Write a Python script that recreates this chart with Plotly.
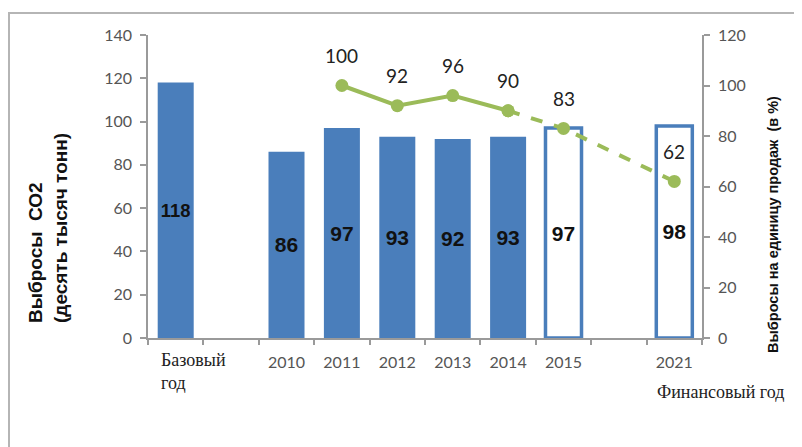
import plotly.graph_objects as go

# ---- data ----
slots = ["Базовый год", "", "2010", "2011", "2012", "2013", "2014", "2015", "", "2021"]
bar_categories = ["Базовый год", "2010", "2011", "2012", "2013", "2014", "2015", "2021"]
bar_values = [118, 86, 97, 93, 92, 93, 97, 98]
bar_outlined = [False, False, False, False, False, False, True, True]
line_solid_cats = ["2011", "2012", "2013", "2014"]
line_solid_vals = [100, 92, 96, 90]
line_dash_cats = ["2014", "2015", "2021"]
line_dash_vals = [90, 83, 62]
year_ticks = ["2010", "2011", "2012", "2013", "2014", "2015", "2021"]

pos = {c: i for i, c in enumerate(slots) if c}

# page has an 8px body margin; work in page coordinates
OFF = 8
W, H = 794, 439
PL, PR, PT, PB = 148, 702, 35, 338      # plot area in page coords
L, T = PL - OFF, PT - OFF
R, B = W - (PR - OFF), H - (PB - OFF)
PW, PH = PR - PL, PB - PT

def px(x):
    return (x - PL) / PW

def py(y):
    return (PB - y) / PH

BLUE = "#4a7ebb"
GREEN = "#9bbb59"

fig = go.Figure()

fig.add_trace(go.Bar(
    x=[pos[c] for c in bar_categories],
    y=bar_values,
    width=0.65,
    marker=dict(
        color=["white" if o else BLUE for o in bar_outlined],
        line=dict(color=BLUE, width=[3.5 if o else 0 for o in bar_outlined]),
    ),
    text=[str(v) for v in bar_values],
    textposition="inside",
    insidetextanchor="middle",
    textangle=0,
    textfont=dict(family="Liberation Sans", size=21, color="#111111", weight="bold"),
    showlegend=False,
))

fig.add_trace(go.Scatter(
    x=[pos[c] for c in line_dash_cats], y=line_dash_vals, yaxis="y2",
    mode="lines+markers",
    line=dict(color=GREEN, width=4, dash="dash"),
    marker=dict(color=GREEN, size=13),
    showlegend=False,
))
fig.add_trace(go.Scatter(
    x=[pos[c] for c in line_solid_cats], y=line_solid_vals, yaxis="y2",
    mode="lines+markers",
    line=dict(color=GREEN, width=4),
    marker=dict(color=GREEN, size=13),
    showlegend=False,
))

annotations = []
for c, v in list(zip(line_solid_cats, line_solid_vals)) + list(zip(line_dash_cats[1:], line_dash_vals[1:])):
    annotations.append(dict(
        x=pos[c], y=v, xref="x", yref="y2", text=str(v), showarrow=False,
        yshift=30, font=dict(family="Lato", size=19, color="#222222"),
    ))

annotations += [
    dict(x=px(159), y=py(371), xref="paper", yref="paper", xanchor="left", yanchor="middle",
         text="Базовый<br>год", align="left", showarrow=False,
         font=dict(family="Liberation Serif", size=18, color="#222222")),
    dict(x=px(786), y=py(392), xref="paper", yref="paper", xanchor="right", yanchor="middle",
         text="Финансовый год", showarrow=False,
         font=dict(family="Liberation Serif", size=18, color="#222222")),
    dict(x=px(48), y=py(228), xref="paper", yref="paper", xanchor="center", yanchor="middle",
         text="Выбросы  СО2<br>(десять тысяч тонн)", textangle=-90, align="left", showarrow=False,
         font=dict(family="Liberation Sans", size=19, color="#111111", weight="bold")),
    dict(x=px(773), y=py(225), xref="paper", yref="paper", xanchor="center", yanchor="middle",
         text="Выбросы на единицу продаж  (в %)", textangle=-90, showarrow=False,
         font=dict(family="Liberation Sans", size=14.5, color="#111111", weight="bold")),
]

shapes = [
    dict(type="line", xref="paper", yref="paper", x0=px(8), x1=px(820), y0=py(13), y1=py(13),
         line=dict(color="#b5b5b5", width=2)),
    dict(type="line", xref="paper", yref="paper", x0=px(9), x1=px(9), y0=py(13), y1=py(470),
         line=dict(color="#b5b5b5", width=2)),
]

axis_font = dict(family="Lato", size=16, color="#555555")

fig.update_layout(
    width=W, height=H,
    margin=dict(l=L, r=R, t=T, b=B),
    paper_bgcolor="white", plot_bgcolor="white",
    bargap=0.35,
    xaxis=dict(
        range=[-0.5, len(slots) - 0.5],
        tickvals=[pos[c] for c in year_ticks], ticktext=year_ticks,
        ticks="", showgrid=False, zeroline=False,
        showline=True, linecolor="#9a9a9a", linewidth=1.5,
        tickfont=axis_font, ticklabelstandoff=9,
        minor=dict(tickvals=[i - 0.5 for i in range(len(slots) + 1)], ticks="outside",
                   ticklen=5, tickcolor="#9a9a9a", tickwidth=1.5, showgrid=False),
    ),
    yaxis=dict(
        range=[0, 140], dtick=20, showgrid=False, zeroline=False,
        showline=True, linecolor="#9a9a9a", linewidth=1.5,
        ticks="outside", ticklen=6, tickcolor="#9a9a9a", tickwidth=1.5,
        tickfont=axis_font, ticklabelstandoff=5,
    ),
    yaxis2=dict(
        range=[0, 120], dtick=20, overlaying="y", side="right", showgrid=False, zeroline=False,
        showline=True, linecolor="#9a9a9a", linewidth=1.5,
        ticks="outside", ticklen=6, tickcolor="#9a9a9a", tickwidth=1.5,
        tickfont=axis_font, ticklabelstandoff=5,
    ),
    annotations=annotations,
    shapes=shapes,
)

fig.write_html("out.html")
